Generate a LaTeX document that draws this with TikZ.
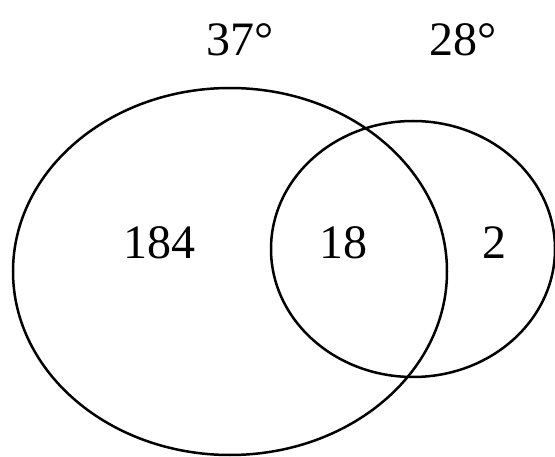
\documentclass[tikz,border=0pt]{standalone}
\usepackage{fontspec}
\setmainfont{Liberation Serif}

\begin{document}
\begin{tikzpicture}[x=1pt,y=-1pt,line width=2.5pt]
  \useasboundingbox (0,0) rectangle (555,457);
  \tikzset{lbl/.style={anchor=base,inner sep=0pt,font=\fontsize{48}{52}\selectfont}}
  \draw (230,271.5) ellipse (217 and 183.5);
  \draw (413,249) ellipse (142 and 128);
  \node[lbl] (angA) at (240,56) {37°};
  \node[lbl] (angB) at (463,56) {28°};
  \node[lbl] (onlyA) at (159,259) {184};
  \node[lbl] (both) at (343,259) {18};
  \node[lbl] (onlyB) at (494,259) {2};
\end{tikzpicture}
\end{document}
